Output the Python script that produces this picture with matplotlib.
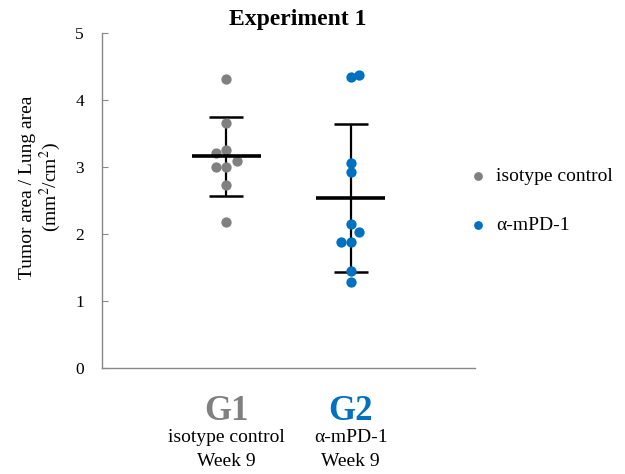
import numpy as np
import matplotlib.pyplot as plt

plt.rcParams['font.family'] = ['Liberation Serif', 'DejaVu Serif']
plt.rcParams['mathtext.fontset'] = 'stix'

groups = ["G1", "G2"]
treatments = ["isotype control", "α-mPD-1"]
weeks = ["Week 9", "Week 9"]
colors = ["#808080", "#0070C0"]

# tumor area / lung area per mouse
g1_vals = [4.32, 3.65, 3.25, 3.21, 3.09, 3.00, 3.00, 2.73, 2.18]
g2_vals = [4.34, 4.38, 3.06, 2.93, 2.15, 2.03, 1.88, 1.88, 1.45, 1.29]
# horizontal jitter (to keep overlapping dots apart)
g1_jit = [0, 0, 0, -0.085, 0.085, -0.085, 0, 0, 0]
g2_jit = [0, 0.065, 0, 0, 0, 0.065, -0.08, 0, 0, 0]

fig = plt.figure(figsize=(6.25, 4.74), dpi=100)
ax = fig.add_axes([0.1632, 0.2236, 0.5968, 0.7068])

data = [(g1_vals, g1_jit), (g2_vals, g2_jit)]
for i, ((vals, jit), color, lab) in enumerate(zip(data, colors, treatments)):
    x = i + 1
    vals = np.array(vals)
    ax.scatter(x + np.array(jit), vals, s=55, color=color, zorder=3, label=lab,
               linewidths=0)
    m = vals.mean()
    sd = vals.std(ddof=1)
    ax.errorbar(x, m, yerr=sd, color='black', capsize=12, capthick=1.8,
                elinewidth=1.6, zorder=2)
    ax.hlines(m, x - 0.28, x + 0.28, color='black', linewidth=2.6, zorder=4)

ax.set_xlim(0, 3)
ax.set_ylim(0, 5)
ax.set_yticks([0, 1, 2, 3, 4, 5])
ax.set_xticks([])
for s in ['top', 'right']:
    ax.spines[s].set_visible(False)
for s in ['left', 'bottom']:
    ax.spines[s].set_color('#888888')
    ax.spines[s].set_linewidth(1.0)
ax.tick_params(axis='y', direction='in', length=4, color='#888888', labelsize=12.5, pad=13)

ax.set_ylabel('Tumor area / Lung area\n(mm$^2$/cm$^2$)', fontsize=14,
              linespacing=1.1)
ax.yaxis.set_label_coords(-0.105, 0.54)
ax.set_title('Experiment 1', fontsize=17, fontweight='bold', pad=6, x=0.525)

for i, (g, t, w, c) in enumerate(zip(groups, treatments, weeks, colors)):
    x = i + 1
    ax.text(x, -0.65, g, color=c, fontsize=25, fontweight='bold', ha='center', va='center',
            clip_on=False)
    ax.text(x, -1.03, t, fontsize=14, ha='center', va='center', clip_on=False)
    ax.text(x, -1.39, w, fontsize=14, ha='center', va='center', clip_on=False)

ax.legend(loc='center left', bbox_to_anchor=(0.935, 0.5), frameon=False, fontsize=14,
          markerscale=0.85, handletextpad=0.45, labelspacing=1.6, handlelength=1.0)

fig.savefig('out.png', dpi=100)
